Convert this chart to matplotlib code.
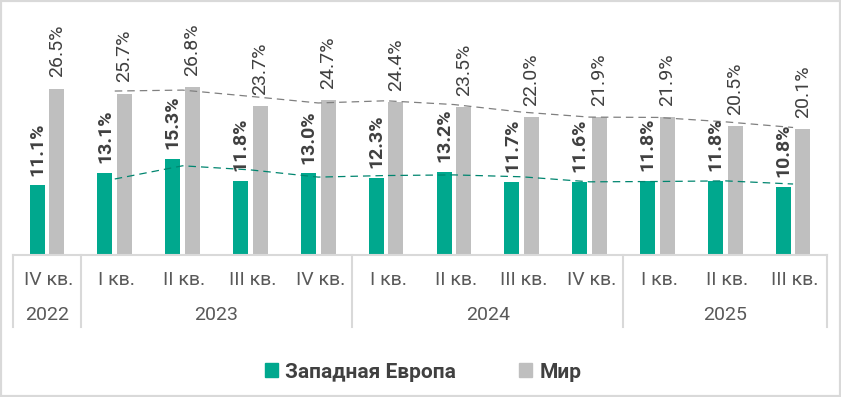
import numpy as np
import pandas as pd
import matplotlib
matplotlib.use("Agg")
import matplotlib.pyplot as plt
from matplotlib.patches import Patch, Rectangle

plt.rcParams['font.family'] = ['Roboto', 'DejaVu Sans']

quarters = ["IV кв.", "I кв.", "II кв.", "III кв.", "IV кв.",
            "I кв.", "II кв.", "III кв.", "IV кв.",
            "I кв.", "II кв.", "III кв."]
years = ["2022", "2023", "2024", "2025"]
year_sizes = [1, 4, 4, 3]
west_europe = [11.1, 13.1, 15.3, 11.8, 13.0, 12.3, 13.2, 11.7, 11.6, 11.8, 11.8, 10.8]
world = [26.5, 25.7, 26.8, 23.7, 24.7, 24.4, 23.5, 22.0, 21.9, 21.9, 20.5, 20.1]

green = "#00a88e"
grey = "#bfbfbf"
text_col = "#404040"
line_col = "#d9d9d9"

fig = plt.figure(figsize=(8.41, 3.97), dpi=100)
ax = fig.add_axes([13/841, 1 - 255/397, 814/841, 245/397])

x = np.arange(len(quarters))
w = 0.22
off = 0.145
ax.bar(x - off, west_europe, w, color=green, zorder=2)
ax.bar(x + off, world, w, color=grey, zorder=2)

# two-period moving average trendlines
ma_eu = pd.Series(west_europe).rolling(2).mean()
ma_w = pd.Series(world).rolling(2).mean()
ax.plot(x, ma_eu, ls=(0, (6, 4)), color="#00856f", lw=0.9, zorder=3)
ax.plot(x, ma_w, ls=(0, (6, 4)), color="#808080", lw=0.9, zorder=3)

for i in range(len(x)):
    ax.annotate(f"{west_europe[i]:.1f}%", (x[i] - off, west_europe[i]),
                xytext=(0, 7), textcoords="offset points", rotation=90,
                ha="center", va="bottom", fontsize=14, fontweight="bold",
                color=text_col)
    ax.annotate(f"{world[i]:.1f}%", (x[i] + off, world[i]),
                xytext=(0, 8), textcoords="offset points", rotation=90,
                ha="center", va="bottom", fontsize=14, color=text_col)

ax.set_xlim(-0.5, len(x) - 0.5)
ax.set_ylim(0, 39)
ax.set_xticks([])
ax.set_yticks([])
for s in ["top", "left", "right"]:
    ax.spines[s].set_visible(False)
ax.spines["bottom"].set_color(line_col)
ax.spines["bottom"].set_linewidth(1.5)

tr = ax.get_xaxis_transform()
for i, q in enumerate(quarters):
    ax.text(x[i] + 0.03, -0.102, q, transform=tr, ha="center", va="center",
            fontsize=14, color="#595959")

start = -0.5
bounds = [start]
for name, n in zip(years, year_sizes):
    ax.text(start + n / 2, -0.245, name, transform=tr, ha="center",
            va="center", fontsize=14, color="#595959")
    start += n
    bounds.append(start)
for b in bounds:
    ax.plot([b, b], [0, -0.294], transform=tr, color=line_col, lw=1.5,
            clip_on=False)

handles = [Patch(color=green, label="Западная Европа"),
           Patch(color=grey, label="Мир")]
leg = fig.legend(handles=handles, loc="center", bbox_to_anchor=(0.503, 1 - 372/397),
                 ncol=2, frameon=False, handlelength=0.65, handleheight=0.65,
                 handletextpad=0.35, columnspacing=3.0,
                 prop={"weight": "bold", "size": 15})
for t in leg.get_texts():
    t.set_color(text_col)

fig.patches.append(Rectangle((0, 0), 1, 1, transform=fig.transFigure,
                             fill=False, edgecolor=line_col, lw=3))

fig.savefig("out.png", dpi=100)
